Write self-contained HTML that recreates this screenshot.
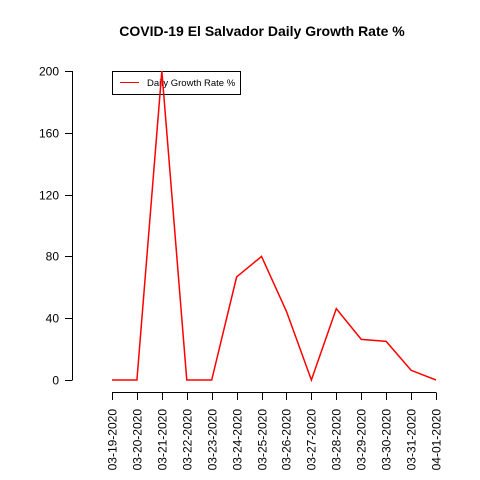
<!DOCTYPE html>
<html><head><meta charset="utf-8"><style>body{margin:0;background:#fff}svg{display:block}text{font-family:"Liberation Sans",sans-serif}</style></head>
<body>
<svg id="c" width="480" height="480">
<text x="262" y="36" text-anchor="middle" font-size="14" font-weight="bold">COVID-19 El Salvador Daily Growth Rate %</text>
<g id="yaxis"></g>
<g id="xaxis"></g>
<g>
<rect x="112.5" y="71.5" width="128" height="23" fill="#fff" stroke="#000"/>
<line x1="120" y1="82.5" x2="139" y2="82.5" stroke="red"/>
<text x="147" y="86" font-size="9.5">Daily Growth Rate %</text>
</g>
<g id="series"></g>
</svg>
<script>
const categories=["03-19-2020","03-20-2020","03-21-2020","03-22-2020","03-23-2020","03-24-2020","03-25-2020","03-26-2020","03-27-2020","03-28-2020","03-29-2020","03-30-2020","03-31-2020","04-01-2020"];
const values=[0,0,200,0,0,66.7,80,44.4,0,46.2,26.3,25,6.3,0];
const yTicks=[0,40,80,120,160,200];
const NS="http://www.w3.org/2000/svg";
const x=i=>112+i*(436-112)/(categories.length-1);
const y=v=>380-v*(380-71)/200;
function mk(t,a,p){const e=document.createElementNS(NS,t);for(const k in a)e.setAttribute(k,a[k]);p.appendChild(e);return e;}
const ya=document.getElementById('yaxis'),xa=document.getElementById('xaxis'),s=document.getElementById('series');
mk('line',{x1:72.5,y1:y(0),x2:72.5,y2:y(200),stroke:'#000'},ya);
yTicks.forEach(v=>{const yy=Math.round(y(v))+0.5;
const l=mk('line',{x1:65,y1:yy,x2:72.5,y2:yy,stroke:'#000'},ya);


const t=mk('text',{x:59,y:yy+4,'text-anchor':'end','font-size':12},ya);t.textContent=v;

});
mk('line',{x1:x(0),y1:392.5,x2:x(categories.length-1),y2:392.5,stroke:'#000'},xa);
categories.forEach((c,i)=>{const xx=Math.round(x(i))+0.5;
const l=mk('line',{x1:xx,y1:392.5,x2:xx,y2:400,stroke:'#000'},xa);


const t=mk('text',{x:xx+4,y:409,'text-anchor':'end','font-size':12,transform:`rotate(-90 ${xx+4} 409)`},xa);t.textContent=c;

});
const p=mk('polyline',{points:values.map((v,i)=>x(i)+','+y(v)).join(' '),fill:'none',stroke:'red','stroke-width':1.5},s);


</script>
</body></html>
